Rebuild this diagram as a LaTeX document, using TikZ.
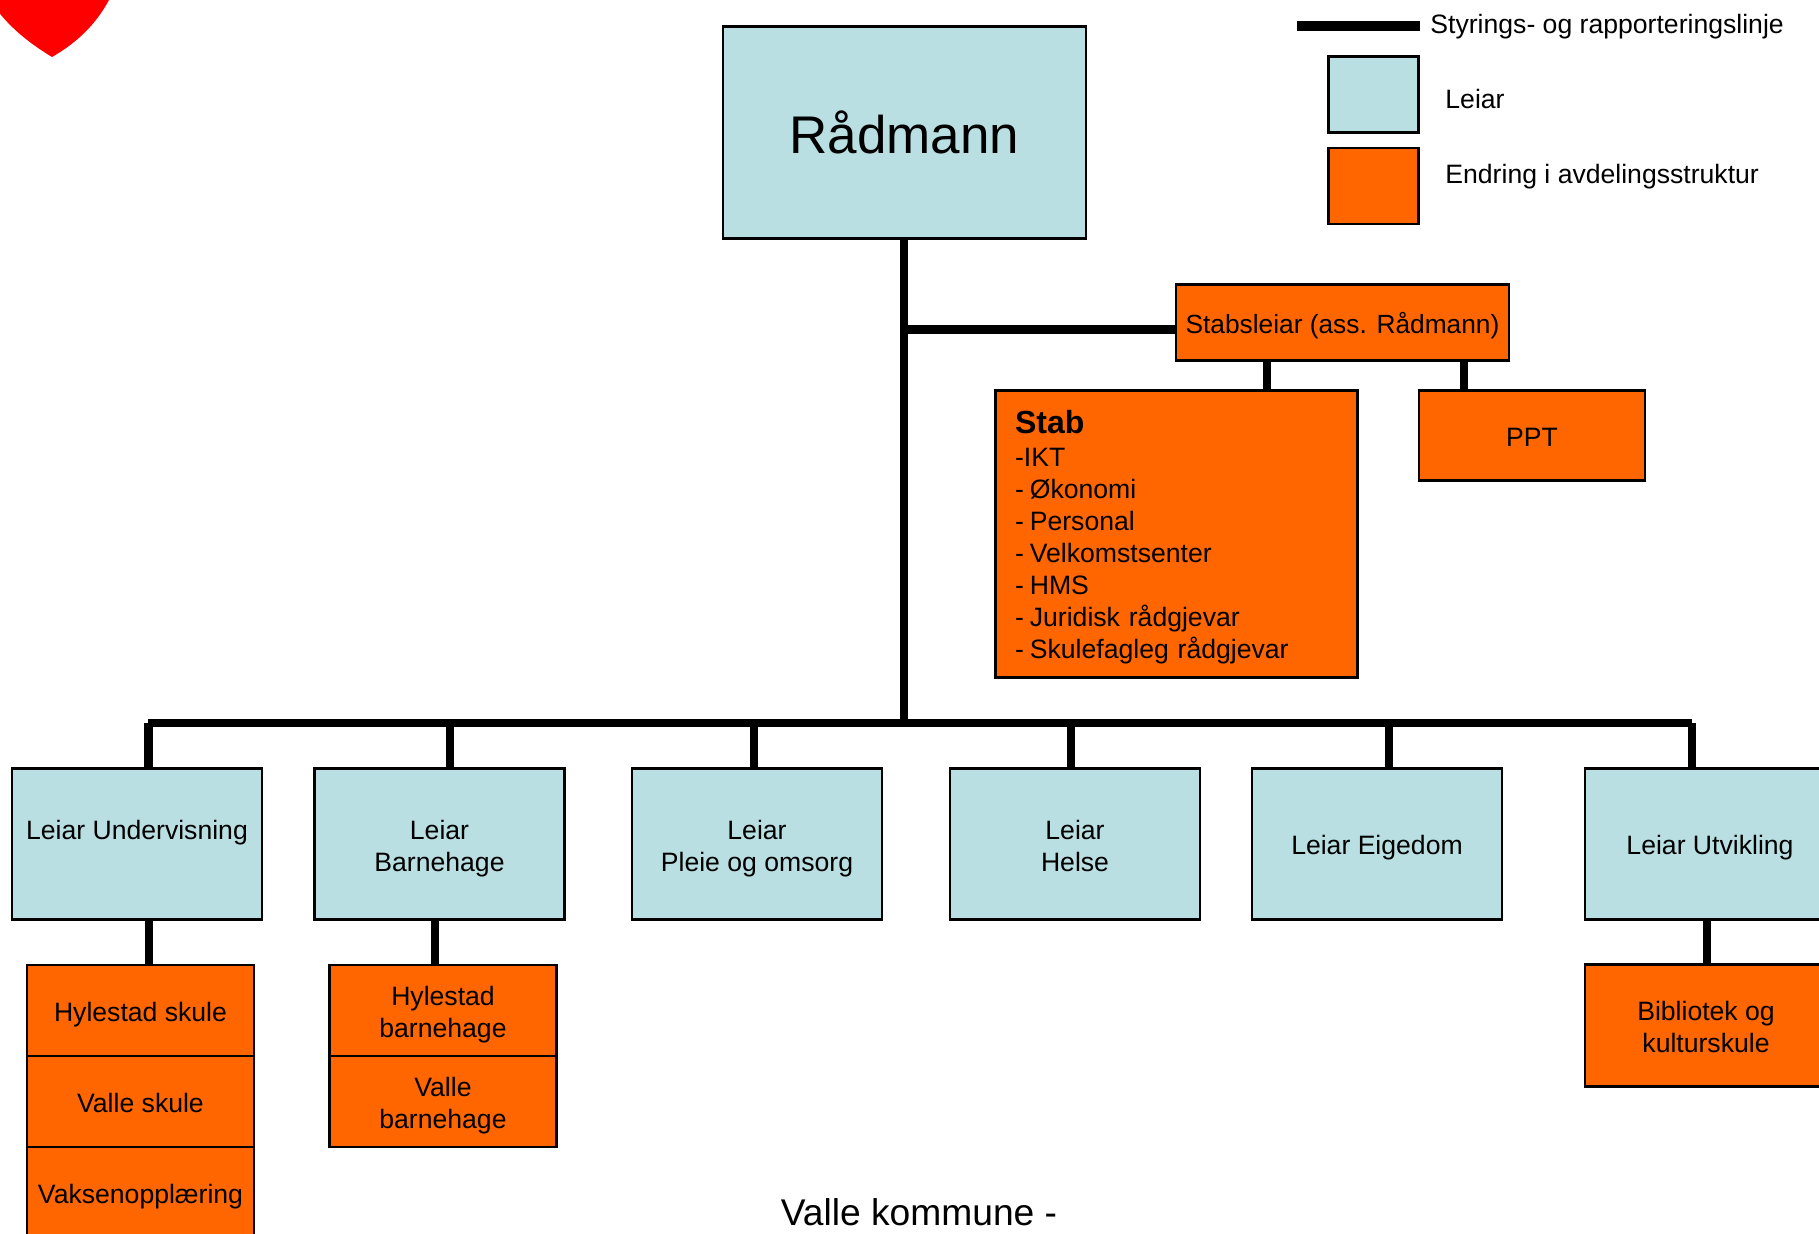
\documentclass[tikz,border=0pt]{standalone}
\usepackage{fontspec}
\setmainfont{Liberation Sans}
\definecolor{leiarblue}{HTML}{B9DFE2}
\definecolor{endorange}{HTML}{FF6600}
\newcommand{\dsh}{-\hspace{3pt}}
\newcommand{\twol}[2]{\makebox[0pt]{\raisebox{2.3pt}[0pt][0pt]{\makebox[0pt]{#1}}}\makebox[0pt]{\raisebox{-13.7pt}[0pt][0pt]{\makebox[0pt]{#2}}}}
\tikzset{
  x=0.5pt,y=-0.5pt,
  plainbox/.style={draw=black,line width=1.1pt,inner sep=0pt,align=center,font=\fontsize{13.3}{16}\selectfont},
  txtlow/.style={execute at begin node={\rule{0pt}{15.5pt}},execute at end node={\rule[-4.7pt]{0pt}{4.7pt}}},
  blueplain/.style={plainbox,fill=leiarblue},
  endplain/.style={plainbox,fill=endorange},
  leiarsize/.style={minimum width=125pt,minimum height=75.5pt},
  leiarbox/.style={blueplain,txtlow,leiarsize},
  leiartwo/.style={blueplain,leiarsize},
  endbox/.style={endplain,txtlow},
  unitsize/.style={minimum width=113.5pt,minimum height=45.5pt},
  unitbox/.style={endbox,unitsize},
  unittwo/.style={endplain,unitsize},
  conn/.style={line width=4.3pt,line cap=butt},
  legtext/.style={anchor=west,inner sep=0pt,font=\fontsize{13.3}{16}\selectfont},
}
\begin{document}
\begin{tikzpicture}
\clip (0,0) rectangle (1819,1234);
\useasboundingbox (0,0) rectangle (1819,1234);
\fill[white] (0,0) rectangle (1819,1234);
% heart
\fill[red] (-10,0) .. controls (4,22) and (24,40) .. (52,57) .. controls (78,42) and (96,24) .. (109,0) -- cycle;
% boxes
\node[blueplain,minimum width=181.5pt,minimum height=106pt,font=\fontsize{26.5}{30}\selectfont] (rad) at (904.5,132.5) {\raisebox{0.3pt}{Rådmann}};
\node[endbox,minimum width=166.5pt,minimum height=38pt,font=\fontsize{13.15}{16}\selectfont] (stabsl) at (1342.5,322.5) {Stabsleiar (ass. Rådmann)};
\node[endplain,minimum width=181pt,minimum height=143.5pt,align=left,text width=161.5pt,execute at begin node={\rule{0pt}{15pt}}] (stab) at (1176.5,534) {{\fontsize{16}{16}\selectfont\bfseries Stab}\\[0.4pt]-IKT\\\dsh Økonomi\\\dsh Personal\\\dsh Velkomstsenter\\\dsh HMS\\\dsh Juridisk rådgjevar\\\dsh Skulefagleg rådgjevar};
\node[endbox,minimum width=113pt,minimum height=45pt] (ppt) at (1532,435.5) {PPT};
\node[leiartwo] (lu) at (137,844) {\twol{Leiar Undervisning}{}};
\node[leiartwo] (lb) at (439.5,844) {\twol{Leiar}{Barnehage}};
\node[leiartwo] (lp) at (757,844) {\twol{Leiar}{Pleie og omsorg}};
\node[leiartwo] (lh) at (1075,844) {\twol{Leiar}{Helse}};
\node[leiarbox] (le) at (1377,844) {Leiar Eigedom};
\node[leiarbox] (lv) at (1710,844) {Leiar Utvikling};
\node[unitbox] (u1) at (140.5,1010.5) {Hylestad skule};
\node[unitbox] (u2) at (140.5,1101.5) {Valle skule};
\node[unitbox] (u3) at (140.5,1192.5) {Vaksenopplæring};
\node[unittwo] (b1) at (443,1010.5) {\twol{Hylestad}{barnehage}};
\node[unittwo] (b2) at (443,1101.5) {\twol{Valle}{barnehage}};
\node[endplain,minimum width=121pt,minimum height=61pt] (bib) at (1706,1025.5) {\twol{Bibliotek og}{kulturskule}};
\node[inner sep=0pt,font=\fontsize{18.6}{22}\selectfont] (vk) at (919,1212) {Valle kommune -};
% connectors
\coordinate (bus) at (904,723);
\coordinate (busl) at (148,723);
\coordinate (busr) at (1692,723);
\draw[conn] (rad.south -| bus) -- (bus);
\draw[conn] (busl) -- (busr);
\draw[conn] (bus |- stabsl.west) ++(0,7) coordinate (sb) -- (sb -| stabsl.west);
\coordinate (s1) at (1267,0); \coordinate (s2) at (1464,0);
\draw[conn] (stabsl.south -| s1) -- (stab.north -| s1);
\draw[conn] (stabsl.south -| s2) -- (ppt.north -| s2);
\foreach \n/\xx in {lu/148.5,lb/450,lp/754,lh/1071,le/1389,lv/1692}{
  \coordinate (t) at (\xx,0);
  \draw[conn] (bus -| t) -- (\n.north -| t);
}
\coordinate (d1) at (149,0); \coordinate (d2) at (435,0); \coordinate (d3) at (1707,0);
\draw[conn] (lu.south -| d1) -- (u1.north -| d1);
\draw[conn] (lb.south -| d2) -- (b1.north -| d2);
\draw[conn] (lv.south -| d3) -- (bib.north -| d3);
% legend
\coordinate (la) at (1297,26); \coordinate (lc) at (1420,26);
\draw[line width=4.8pt] (la) -- (lc);
\node[legtext] (lt1) at (1430,26.5) {Styrings- og rapporteringslinje};
\node[blueplain,minimum width=45pt,minimum height=38pt] (k1) at (1373.5,94.5) {};
\node[endplain,minimum width=45pt,minimum height=38pt] (k2) at (1373.5,186) {};
\node[legtext] (lt2) at (1445,99.5) {Leiar};
\node[legtext] (lt3) at (1445,176.5) {Endring i avdelingsstruktur};
\end{tikzpicture}
\end{document}
